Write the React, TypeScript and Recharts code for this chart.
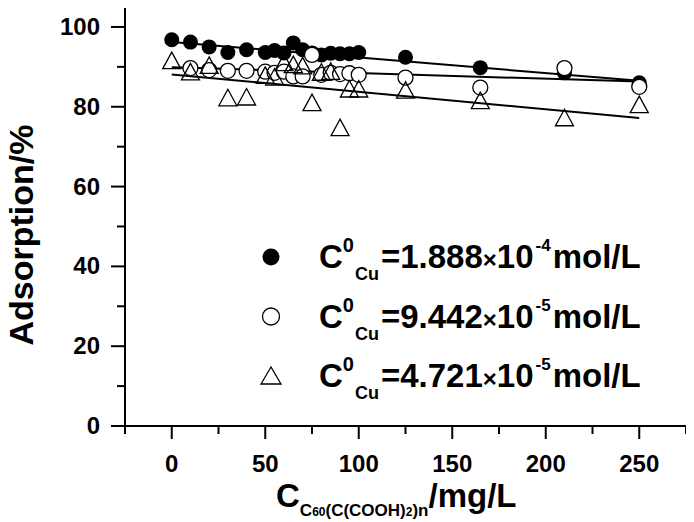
import React from "react";
import { ComposedChart, Scatter, Line, XAxis, YAxis } from "recharts";

// sampled concentrations of the fullerene derivative, mg/L
const concentration = [0, 10, 20, 30, 40, 50, 55, 60, 65, 70, 75, 80, 85, 90, 95, 100, 125, 165, 210, 250];

// adsorption (%) for each initial Cu concentration
const highCu = [96.8, 96.2, 95.0, 93.6, 94.3, 93.6, 94.1, 93.5, 96.0, 94.3, 93.5, 93.0, 93.4, 93.3, 93.3, 93.6, 92.4, 89.8, 88.5, 86.0];
const midCu = [null, 89.7, 89.2, 89.0, 89.0, 88.8, 88.5, 88.8, 87.6, 87.6, 93.0, 88.0, 88.5, 88.2, 88.4, 88.0, 87.3, 84.8, 89.7, 85.0];
const lowCu = [91.3, 88.5, 90.1, 82.0, 82.2, 87.6, 87.2, 90.8, 90.3, 90.0, 80.8, 88.4, 88.6, 74.5, 84.2, 84.2, 83.9, 81.3, 77.0, 80.3];

// linear fits
const fitX = [0, 250];
const fitHigh = [96.25, 86.5];
const fitMid = [89.9, 86.3];
const fitLow = [88.1, 77.2];

const xTicks = [-25, 0, 25, 50, 75, 100, 125, 150, 175, 200, 225, 250, 275];
const yTicks = [0, 10, 20, 30, 40, 50, 60, 70, 80, 90, 100];

const FONT = "'Liberation Sans', Arial, sans-serif";

const toPoints = (ys: (number | null)[]) =>
  concentration
    .map((x, i) => ({ x, y: ys[i] }))
    .filter((p) => p.y !== null);

const toFit = (ys: number[]) => fitX.map((x, i) => ({ x, y: ys[i] }));

const XTick = (props: any) => {
  const { x, y, payload } = props;
  const major = payload.value % 50 === 0 && payload.value >= 0 && payload.value <= 250;
  return (
    <g>
      <line x1={x} x2={x} y1={y} y2={y + (major ? 13 : 8)} stroke="#000" strokeWidth={2} />
      {major && (
        <text x={x} y={y + 46} textAnchor="middle" fontFamily={FONT} fontWeight="bold" fontSize={24} fill="#000">
          {payload.value}
        </text>
      )}
    </g>
  );
};

const YTick = (props: any) => {
  const { x, y, payload } = props;
  const major = payload.value % 20 === 0;
  return (
    <g>
      <line x1={x} x2={x - (major ? 14 : 8)} y1={y} y2={y} stroke="#000" strokeWidth={2} />
      {major && (
        <text x={x - 25} y={y + 8} textAnchor="end" fontFamily={FONT} fontWeight="bold" fontSize={24} fill="#000">
          {payload.value}
        </text>
      )}
    </g>
  );
};

const filledDot = (p: any) => <circle cx={p.cx} cy={p.cy} r={7.5} fill="#000" />;
const openDot = (p: any) => <circle cx={p.cx} cy={p.cy} r={7.5} fill="#fff" stroke="#000" strokeWidth={1.3} />;
const triDot = (p: any) => (
  <polygon
    points={`${p.cx},${p.cy - 9.5} ${p.cx - 9},${p.cy + 7} ${p.cx + 9},${p.cy + 7}`}
    fill="none"
    stroke="#000"
    strokeWidth={1.3}
  />
);

const legendRows = [
  { value: "1.888", exp: "-4" },
  { value: "9.442", exp: "-5" },
  { value: "4.721", exp: "-5" },
];

const Legend = () => (
  <svg width={694} height={522} style={{ position: "absolute", left: 0, top: 0, pointerEvents: "none" }}>
    {legendRows.map((r, i) => {
      const base = 268 + i * 59.5;
      const cy = base - 11;
      return (
        <g key={i}>
          {i === 0 && <circle cx={271} cy={cy} r={8.5} fill="#000" />}
          {i === 1 && <circle cx={271} cy={cy} r={8.5} fill="none" stroke="#000" strokeWidth={1.3} />}
          {i === 2 && (
            <polygon points={`271,${cy - 9} 261,${cy + 8} 281,${cy + 8}`} fill="none" stroke="#000" strokeWidth={1.3} />
          )}
          <text x={319} y={base} fontFamily={FONT} fontWeight="bold" fontSize={33} fill="#000">
            C
            <tspan fontSize={20} dy={-16}>0</tspan>
            <tspan fontSize={18} dy={28} dx={1}>Cu</tspan>
            <tspan fontSize={33} dy={-12} dx={2}>={r.value}</tspan>
            <tspan fontSize={24}>×</tspan>
            <tspan fontSize={33}>10</tspan>
            <tspan fontSize={17} dy={-17} dx={2}>{r.exp}</tspan>
            <tspan fontSize={33} dy={17} dx={2}>mol/L</tspan>
          </text>
        </g>
      );
    })}
    <text
      x={33}
      y={235}
      transform="rotate(-90 33 235)"
      textAnchor="middle"
      fontFamily={FONT}
      fontWeight="bold"
      fontSize={34}
      fill="#000"
    >
      Adsorption/%
    </text>
    <text x={276} y={507} fontFamily={FONT} fontWeight="bold" fontSize={33} fill="#000">
      C
      <tspan fontSize={17} dy={9}>C</tspan>
      <tspan fontSize={12}>60</tspan>
      <tspan fontSize={17}>(C(COOH)</tspan>
      <tspan fontSize={12}>2</tspan>
      <tspan fontSize={17}>)n</tspan>
      <tspan fontSize={33} dy={-9}>/mg/L</tspan>
    </text>
  </svg>
);

export default function App() {
  return (
    <div style={{ position: "relative", width: 694, height: 522, marginLeft: -8, marginTop: -8, background: "#fff" }}>
      <ComposedChart width={694} height={522} margin={{ top: 7, right: 8, bottom: 0, left: 0 }}>
        <XAxis
          dataKey="x"
          type="number"
          domain={[-25, 275]}
          ticks={xTicks}
          allowDataOverflow
          height={96}
          tickSize={0}
          tickMargin={0}
          tickLine={false}
          tick={<XTick />}
          axisLine={{ stroke: "#000", strokeWidth: 2 }}
          interval={0}
        />
        <YAxis
          dataKey="y"
          type="number"
          domain={[0, 105]}
          ticks={yTicks}
          allowDataOverflow
          width={125}
          tickSize={0}
          tickMargin={0}
          tickLine={false}
          tick={<YTick />}
          axisLine={{ stroke: "#000", strokeWidth: 2 }}
          interval={0}
        />
        <XAxis
          xAxisId="top"
          orientation="top"
          type="number"
          domain={[-25, 275]}
          height={0}
          tick={false}
          tickLine={false}
          axisLine={{ stroke: "#000", strokeWidth: 2 }}
        />
        <YAxis
          yAxisId="right"
          orientation="right"
          type="number"
          domain={[0, 105]}
          width={0}
          tick={false}
          tickLine={false}
          axisLine={{ stroke: "#000", strokeWidth: 2 }}
        />
        <Scatter data={toPoints(highCu)} shape={filledDot} isAnimationActive={false} />
        <Scatter data={toPoints(midCu)} shape={openDot} isAnimationActive={false} />
        <Scatter data={toPoints(lowCu)} shape={triDot} isAnimationActive={false} />
        <Line data={toFit(fitHigh)} dataKey="y" type="linear" stroke="#000" strokeWidth={2} dot={false} isAnimationActive={false} />
        <Line data={toFit(fitMid)} dataKey="y" type="linear" stroke="#000" strokeWidth={2} dot={false} isAnimationActive={false} />
        <Line data={toFit(fitLow)} dataKey="y" type="linear" stroke="#000" strokeWidth={2} dot={false} isAnimationActive={false} />
      </ComposedChart>
      <Legend />
    </div>
  );
}
